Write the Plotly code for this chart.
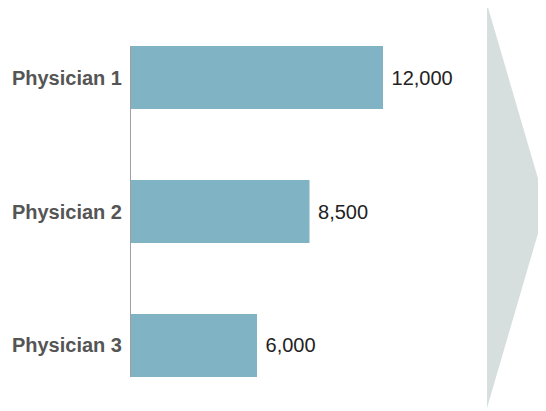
import plotly.graph_objects as go

categories = ["Physician 1", "Physician 2", "Physician 3"]
values = [12000, 8500, 6000]

bar_color = "#80b4c4"
arrow_color = "#d6dfde"

fig = go.Figure()
fig.add_trace(go.Bar(
    x=values, y=categories, orientation="h",
    marker=dict(color=bar_color, line=dict(width=0)),
    width=0.471,
    text=[f" {v:,}" for v in values],
    textposition="outside",
    textfont=dict(family="Liberation Sans, Arial, sans-serif", size=20, color="#222222"),
    cliponaxis=False,
))

# page body has an 8px margin, so the figure is sized and offset accordingly
fig.update_layout(
    width=538, height=403,
    margin=dict(l=123, r=0, t=38, b=34),
    paper_bgcolor="white", plot_bgcolor="rgba(0,0,0,0)",
    showlegend=False,
    xaxis=dict(range=[0, 415 / 21 * 1000], visible=False, showgrid=False, zeroline=False),
    yaxis=dict(
        categoryorder="array", categoryarray=categories,
        range=[2.2356, -0.2356],
        showline=True, linecolor="#a0a0a0", linewidth=1,
        showgrid=False, zeroline=False,
        ticks="outside", ticklen=4, tickcolor="rgba(0,0,0,0)",
        tickfont=dict(family="Liberation Sans, Arial, sans-serif", size=20, color="#555555", weight="bold"),
    ),
    shapes=[dict(
        type="path", xref="paper", yref="paper",
        path="M 0.8578 1.1269 L 1.0 0.5166 L 0.8578 -0.0937 Z",
        fillcolor=arrow_color, line=dict(width=0), layer="below",
    )],
)

fig.write_html("out.html")
